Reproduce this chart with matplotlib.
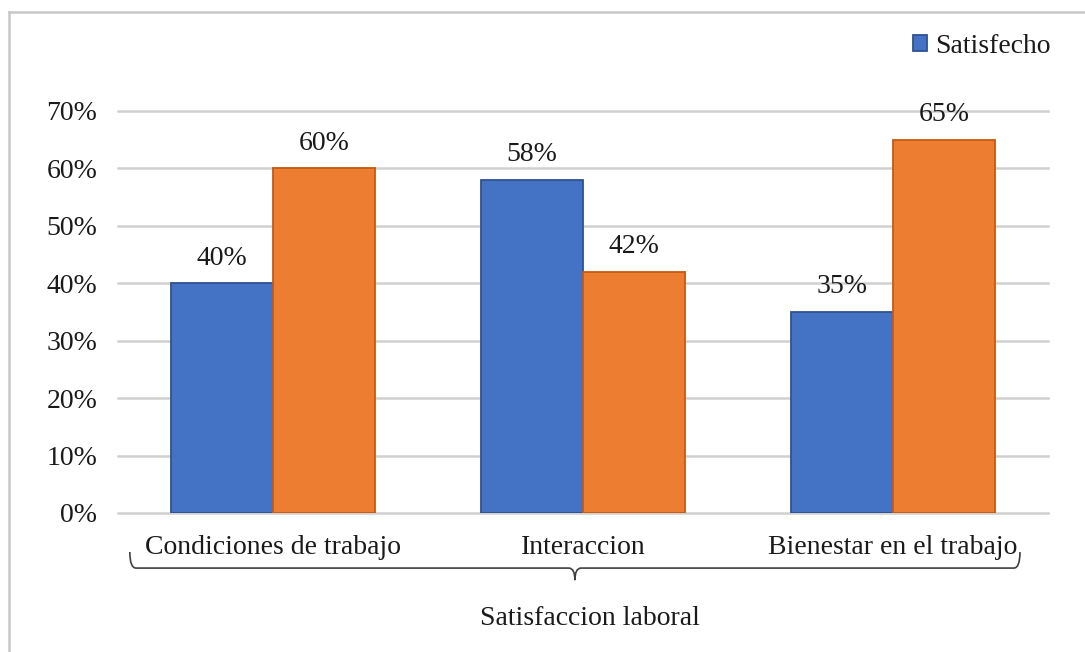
import matplotlib
matplotlib.use("Agg")
import matplotlib.pyplot as plt
from matplotlib.lines import Line2D
from matplotlib.path import Path
from matplotlib.patches import PathPatch
import matplotlib.transforms as mtransforms
import numpy as np

categories = ["Condiciones de trabajo", "Interaccion", "Bienestar en el trabajo"]
satisfecho = [40, 58, 35]
insatisfecho = [60, 42, 65]
y_ticks = [0, 10, 20, 30, 40, 50, 60, 70]
group_title = "Satisfaccion laboral"
legend_label = "Satisfecho"

plt.rcParams["font.family"] = ["Liberation Serif", "DejaVu Serif"]
FS = 20
TXT = "#1a1a1a"

fig = plt.figure(figsize=(10.85, 6.52), dpi=100)
ax = fig.add_axes([0.1088, 0.2132, 0.857, 0.6166])

x = np.arange(len(categories))
w = 0.33
blue, blue_edge = "#4472C4", "#2F528F"
orange, orange_edge = "#ED7D31", "#C55A11"

b1 = ax.bar(x - w / 2, satisfecho, w, color=blue, edgecolor=blue_edge,
            linewidth=1.3, label=legend_label, zorder=3)
b2 = ax.bar(x + w / 2, insatisfecho, w, color=orange, edgecolor=orange_edge,
            linewidth=1.3, zorder=3)

for bars, vals in ((b1, satisfecho), (b2, insatisfecho)):
    for rect, v in zip(bars, vals):
        ax.annotate(f"{v}%", (rect.get_x() + rect.get_width() / 2, v),
                    xytext=(0, 9), textcoords="offset points",
                    ha="center", va="bottom", fontsize=FS, color=TXT)

ax.set_xlim(-0.5, len(categories) - 0.5)
ax.set_ylim(0, 70)
ax.set_yticks(y_ticks)
ax.set_yticklabels([f"{t}%" for t in y_ticks])
ax.yaxis.grid(True, color="#D0D0D0", linewidth=1.8, zorder=0)
for gl in ax.yaxis.get_gridlines():
    gl.set_clip_on(False)
ax.set_axisbelow(True)
for s in ax.spines.values():
    s.set_visible(False)
ax.tick_params(axis="y", length=0, pad=15, labelsize=FS, labelcolor=TXT)
ax.tick_params(axis="x", length=0, labelbottom=False)

# category labels and grouping bracket below the axis
trans = mtransforms.blended_transform_factory(ax.transData, ax.transAxes)
for xi, c in zip(x, categories):
    ax.text(xi, -0.085, c, transform=trans, ha="center", va="center",
            fontsize=FS, color=TXT, clip_on=False)

xl, xr = -0.462, len(categories) - 0.59
xm = (xl + xr) / 2
y_line, y_hook, y_tip = -0.137, -0.097, -0.167
codes = [Path.MOVETO, Path.CURVE3, Path.CURVE3, Path.LINETO,
         Path.CURVE3, Path.CURVE3, Path.MOVETO, Path.CURVE3, Path.CURVE3,
         Path.LINETO, Path.CURVE3, Path.CURVE3]
verts = [(xl, y_hook), (xl, y_line), (xl + 0.02, y_line),
         (xm - 0.02, y_line), (xm, y_line), (xm, y_tip),
         (xr, y_hook), (xr, y_line), (xr - 0.02, y_line),
         (xm + 0.02, y_line), (xm, y_line), (xm, y_tip)]
ax.add_patch(PathPatch(Path(verts, codes), transform=trans, fill=False,
                       edgecolor="#404040", linewidth=1.2, clip_on=False))
ax.text(xm + 0.05, -0.262, group_title, transform=trans, ha="center",
        va="center", fontsize=FS, color=TXT, clip_on=False)

leg = ax.legend(handles=[b1], loc="upper right", bbox_to_anchor=(0.986, 0.978),
                bbox_transform=fig.transFigure, frameon=False, fontsize=FS,
                handlelength=0.5, handleheight=0.5, handletextpad=0.3,
                borderpad=0.2)
for t in leg.get_texts():
    t.set_color(TXT)

# outer frame
fig.add_artist(Line2D([0.0083, 0.0083], [0, 0.9816], color="#C8C8C8",
                      linewidth=1.8, transform=fig.transFigure))
fig.add_artist(Line2D([0.0083, 1.0], [0.9816, 0.9816], color="#C8C8C8",
                      linewidth=1.8, transform=fig.transFigure))

fig.savefig("out.png", dpi=100, facecolor="white")
